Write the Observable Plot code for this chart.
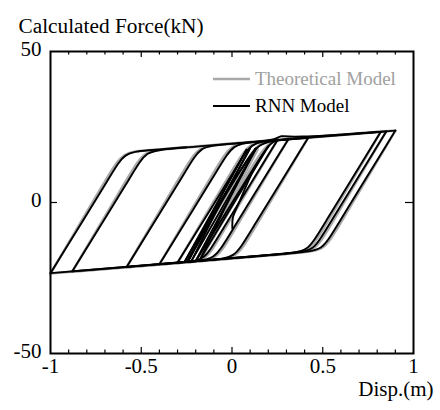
<!DOCTYPE html>
<html><head><meta charset="utf-8">
<script src="https://cdn.jsdelivr.net/npm/d3@7"></script>
<script src="https://cdn.jsdelivr.net/npm/@observablehq/plot@0.6"></script>
<style>
body{margin:0;background:#fff;}
#wrap{position:relative;width:440px;height:410px;font-family:"Liberation Serif","Times New Roman",serif;}
svg text, svg tspan{font-family:"Liberation Serif","Times New Roman",serif !important;}
#legend{position:absolute;left:213px;top:65px;font-size:19px;}
.row{display:flex;align-items:center;height:27px;}
.sw{width:37px;margin-right:5px;}
</style></head><body><div id="wrap"><div id="legend"></div></div>
<script>
// Series names and colours
const seriesNames = ["Theoretical Model", "RNN Model"];
const seriesColors = ["#a9a9a9", "#000000"];

// Tick values
const xTickLabels = [-1, -0.5, 0, 0.5, 1];
const xMajorTicks = [-0.5, 0, 0.5];
const xMinorTicks = [-0.9,-0.8,-0.7,-0.6,-0.4,-0.3,-0.2,-0.1,0.1,0.2,0.3,0.4,0.6,0.7,0.8,0.9];
const yTickLabels = [-50, 0, 50];
const yTicks = [0];

// Theoretical model: branches between load reversals, [disp (m), force (kN)]
const theoretical = [
  [[0,0],[0.12,12],[0.2,19]],
  [[0.2,19],[0.02,0.8],[-0.16,-17.5]],
  [[-0.16,-17.5],[-0.005,0.8],[0.14,17.6]],
  [[0.14,17.6],[-0.03,-1.2],[-0.2,-19.5]],
  [[-0.2,-19.5],[0.095,10.5],[0.165,17.0],[0.21,19.9],[0.25,20.7]],
  [[0.25,20.7],[-0.074,-12.2],[-0.145,-19.25],[-0.25,-19.75]],
  [[-0.25,-19.75],[0.075,13.25],[0.147,20.22],[0.27,20.8],[0.31,20.99]],
  [[0.31,20.99],[-0.014,-11.9],[-0.085,-18.95],[-0.209,-19.55],[-0.30,-20.0]],
  [[-0.30,-20.0],[0.024,13.0],[0.097,19.98],[0.22,20.56],[0.42,21.52]],
  [[0.42,21.52],[0.096,-11.38],[0.025,-18.4],[-0.099,-18.99],[-0.40,-20.5]],
  [[-0.40,-20.5],[-0.076,12.5],[-0.004,19.5],[0.12,20.08],[0.82,23.44]],
  [[0.82,23.44],[0.497,-9.36],[0.426,-16.39],[0.302,-16.99],[-0.58,-21.4]],
  [[-0.58,-21.4],[-0.256,11.6],[-0.184,18.64],[-0.06,19.21],[0.85,23.58]],
  [[0.85,23.58],[0.527,-9.22],[0.456,-16.24],[0.332,-16.84],[-0.88,-22.9]],
  [[-0.88,-22.9],[-0.555,10.2],[-0.483,17.2],[-0.359,17.78],[0.90,23.82]],
  [[0.90,23.82],[0.577,-8.98],[0.506,-15.99],[0.382,-16.59],[-1.0,-23.5]],
  [[-1.0,-23.5],[-0.675,9.6],[-0.603,16.63],[-0.479,17.2],[-0.25,18.3]]
];

// RNN model: same reversals
const rnn = [
  [[0.002,-8.6],[0.0,-4.8],[0.03,-1.5],[0.12,11.8],[0.2,18.6]],
  [[0.2,18.6],[0.02,0.9],[-0.17,-18.2]],
  [[-0.17,-18.2],[-0.022,0.6],[0.13,17.6]],
  [[0.13,17.6],[-0.04,-0.2],[-0.22,-19.0]],
  [[-0.22,-19.0],[-0.06,0.5],[0.10,18.0]],
  [[0.10,18.0],[-0.07,-0.6],[-0.24,-19.3]],
  [[-0.24,-19.3],[-0.076,0.5],[0.08,17.5]],
  [[0.08,17.5],[-0.086,-0.6],[-0.26,-19.5]],
  [[-0.26,-19.5],[-0.066,0.8],[0.13,17.9]],
  [[0.13,17.9],[-0.03,-0.4],[-0.2,-19.4]],
  [[-0.2,-19.4],[0.108,10.3],[0.178,16.9],[0.215,19.8],[0.25,20.6]],
  [[0.25,20.6],[-0.087,-12.3],[-0.152,-19.1],[-0.25,-19.7]],
  [[-0.25,-19.7],[0.06,12.5],[0.152,20.1],[0.27,20.7],[0.31,20.9]],
  [[0.31,20.9],[-0.027,-11.8],[-0.094,-18.9],[-0.209,-19.5],[-0.30,-19.9]],
  [[-0.30,-19.9],[0.038,12.9],[0.104,19.9],[0.22,20.5],[0.42,21.45]],
  [[0.42,21.45],[0.083,-11.4],[0.016,-18.3],[-0.099,-18.95],[-0.40,-20.45]],
  [[-0.40,-20.45],[-0.062,12.4],[0.005,19.4],[0.12,20.0],[0.24,20.7],[0.27,22.4],[0.31,21.3],[0.82,23.4]],
  [[0.82,23.4],[0.484,-9.4],[0.417,-16.3],[0.302,-16.9],[-0.58,-21.3]],
  [[-0.58,-21.3],[-0.242,11.5],[-0.176,18.6],[-0.06,19.2],[0.85,23.55]],
  [[0.85,23.55],[0.514,-9.3],[0.447,-16.2],[0.332,-16.8],[-0.88,-22.8]],
  [[-0.88,-22.8],[-0.541,10.1],[-0.475,17.1],[-0.359,17.75],[0.90,23.8]],
  [[0.90,23.8],[0.564,-9.0],[0.497,-15.95],[0.382,-16.55],[-1.0,-23.4]],
  [[-1.0,-23.4],[-0.661,9.5],[-0.595,16.6],[-0.479,17.2],[-0.25,18.3]]
];

const toRows = (branches) => branches.flatMap((b, i) => b.map(([x, y]) => ({x, y, b: i})));
const theoRows = toRows(theoretical);
const rnnRows = toRows(rnn);

const W = 440, H = 410, mL = 50, mR = 27, mT = 51, mB = 57;
const fW = W - mL - mR, fH = H - mT - mB;
const font = "'Liberation Serif', 'Times New Roman', serif";

const chart = Plot.plot({
  width: W, height: H,
  marginLeft: mL, marginRight: mR, marginTop: mT, marginBottom: mB,
  x: {domain: [-1, 1], axis: null},
  y: {domain: [-50, 50], axis: null},
  style: {fontSize: "21px", background: "white", color: "black", overflow: "visible"},
  marks: [
    Plot.line(theoRows, {x: "x", y: "y", z: "b", stroke: seriesColors[0], strokeWidth: 2.6, curve: "basis"}),
    Plot.line(rnnRows, {x: "x", y: "y", z: "b", stroke: seriesColors[1], strokeWidth: 1.9, curve: "basis"}),
    Plot.frame({stroke: "black", strokeWidth: 2}),
    Plot.ruleX(xMinorTicks, {x: d => d, insetTop: fH - 3.5, stroke: "black", strokeWidth: 1.2}),
    Plot.ruleX(xMinorTicks, {x: d => d, insetBottom: fH - 3.5, stroke: "black", strokeWidth: 1.2}),
    Plot.ruleX(xMajorTicks, {x: d => d, insetTop: fH - 6, stroke: "black", strokeWidth: 1.2}),
    Plot.ruleX(xMajorTicks, {x: d => d, insetBottom: fH - 6, stroke: "black", strokeWidth: 1.2}),
    Plot.ruleY(yTicks, {y: d => d, insetRight: fW - 7, stroke: "black", strokeWidth: 1.2}),
    Plot.ruleY(yTicks, {y: d => d, insetLeft: fW - 8, stroke: "black", strokeWidth: 1.2}),
    Plot.text(xTickLabels, {x: d => d, frameAnchor: "bottom", dy: 19, text: d => String(d), fontSize: 21}),
    Plot.text(yTickLabels, {y: d => d, frameAnchor: "left", dx: -9, dy: -2, textAnchor: "end", text: d => String(d), fontSize: 21}),
    Plot.text(["Disp.(m)"], {frameAnchor: "bottom-right", dx: 20, dy: 42, textAnchor: "end", text: d => d, fontSize: 21}),
    Plot.text(["Calculated Force(kN)"], {frameAnchor: "top-left", dx: -32, dy: -34, textAnchor: "start", text: d => d, fontSize: 21.3})
  ]
});
chart.style.fontFamily = font;
chart.querySelectorAll("text").forEach(t => t.style.fontFamily = font);
document.getElementById("wrap").prepend(chart);

const legend = document.getElementById("legend");
seriesNames.forEach((name, i) => {
  const row = document.createElement("div");
  row.className = "row";
  row.innerHTML = `<svg class="sw" width="37" height="4"><line x1="0" x2="37" y1="2" y2="2" stroke="${seriesColors[i]}" stroke-width="${i === 0 ? 2.6 : 2}"/></svg><span style="color:${i === 0 ? "#a0a0a0" : "#000"}">${name}</span>`;
  legend.appendChild(row);
});
</script></body></html>
